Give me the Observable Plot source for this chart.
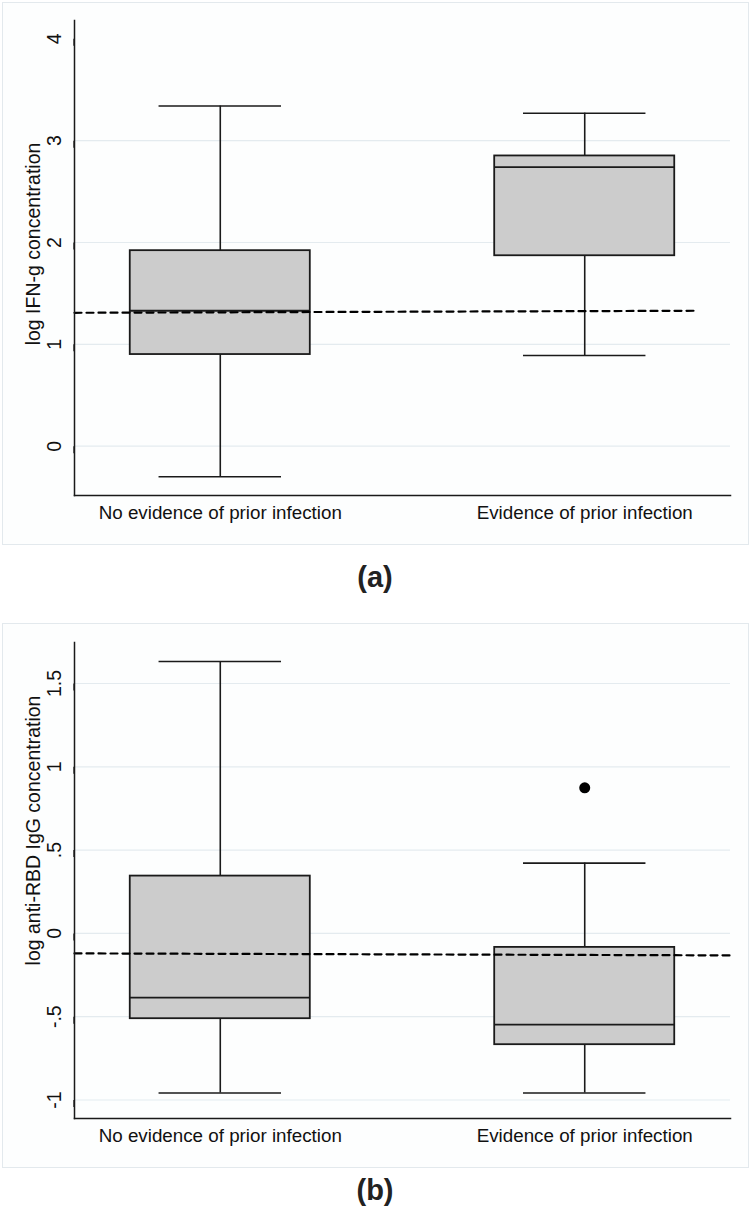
<!DOCTYPE html>
<html>
<head>
<meta charset="utf-8">
<script src="https://cdn.jsdelivr.net/npm/d3@7"></script>
<script src="https://cdn.jsdelivr.net/npm/@observablehq/plot@0.6"></script>
<style>
  html, body { margin: 0; padding: 0; background: #ffffff; }
  body { position: relative; width: 750px; height: 1215px; font-family: "Liberation Sans", Arial, Helvetica, sans-serif; }
  .frame { position: absolute; border: 1px solid #e3e9ed; background: #fdfefe; box-sizing: border-box; }
  .panel { position: absolute; left: 0; }
  .cap { position: absolute; left: 0; width: 750px; text-align: center; font-weight: bold; font-size: 29px; line-height: 29px; color: #222; }
</style>
</head>
<body>
<div class="frame" style="left:2px; top:2px; width:747px; height:543px"></div>
<div class="panel" id="pa" style="top:0px"></div>
<div class="cap" style="top:563px">(a)</div>
<div class="frame" style="left:2px; top:623px; width:747px; height:545px"></div>
<div class="panel" id="pb" style="top:623px"></div>
<div class="cap" style="top:1176px">(b)</div>
<script>
// ---- data ----
const groups = ["No evidence of prior infection", "Evidence of prior infection"];
const groupPos = [1, 2];

// (a) log IFN-g concentration
const ifnLow    = [-0.30, 0.89];
const ifnQ1     = [0.90, 1.87];
const ifnMedian = [1.33, 2.74];
const ifnQ3     = [1.92, 2.85];
const ifnHigh   = [3.34, 3.27];
const ifnOutliers = [];
const ifnRefX = [0.6, 2.31];
const ifnRefY = [1.31, 1.33];
const ifnTicks = [0, 1, 2, 3, 4];
const ifnGrid = [0, 1, 2, 3];

// (b) log anti-RBD IgG concentration
const rbdLow    = [-0.958, -0.958];
const rbdQ1     = [-0.512, -0.668];
const rbdMedian = [-0.386, -0.548];
const rbdQ3     = [0.344, -0.084];
const rbdHigh   = [1.632, 0.422];
const rbdOutliers = [{pos: 2, value: 0.874}];
const rbdRefX = [0.6, 2.4];
const rbdRefY = [-0.12, -0.132];
const rbdTicks = [-1, -0.5, 0, 0.5, 1, 1.5];
const rbdGrid = [-1, -0.5, 0, 0.5, 1, 1.5];

const FONT = "Liberation Sans, Arial, Helvetica, sans-serif";
const BOX_HALF = 0.247, CAP_HALF = 0.168;

function fmt(d) {
  if (d === 0) return "0";
  let s = String(d);
  return s.replace(/^(-?)0\./, "$1.");
}

function makeBoxPlot({low, q1, med, q3, high, outliers, refX, refY, ticks, grid, yDomain, label, labelShift, marginTop}) {
  const boxes = groupPos.map((p, i) => ({pos: p, low: low[i], q1: q1[i], med: med[i], q3: q3[i], high: high[i]}));
  const ref = refX.map((x, i) => ({x, y: refY[i]}));
  return Plot.plot({
    width: 750,
    height: 545,
    marginTop,
    marginBottom: 50,
    marginLeft: 74,
    marginRight: 20,
    style: {fontFamily: FONT, fontSize: "18.8px", color: "#111", background: "transparent", overflow: "visible"},
    x: {domain: [0.6, 2.4]},
    y: {domain: yDomain},
    marks: [
      Plot.gridY(grid, {stroke: "#e4ebef", strokeOpacity: 1, strokeWidth: 1.2}),
      // whiskers
      Plot.ruleX(boxes, {x: "pos", y1: "q3", y2: "high", stroke: "#1a1a1a", strokeWidth: 1.6}),
      Plot.ruleX(boxes, {x: "pos", y1: "low", y2: "q1", stroke: "#1a1a1a", strokeWidth: 1.6}),
      Plot.ruleY(boxes, {y: "high", x1: d => d.pos - CAP_HALF, x2: d => d.pos + CAP_HALF, stroke: "#1a1a1a", strokeWidth: 1.6}),
      Plot.ruleY(boxes, {y: "low", x1: d => d.pos - CAP_HALF, x2: d => d.pos + CAP_HALF, stroke: "#1a1a1a", strokeWidth: 1.6}),
      // boxes
      Plot.rect(boxes, {x1: d => d.pos - BOX_HALF, x2: d => d.pos + BOX_HALF, y1: "q1", y2: "q3", fill: "#cccccc", stroke: "#1a1a1a", strokeWidth: 1.8}),
      Plot.ruleY(boxes, {y: "med", x1: d => d.pos - BOX_HALF, x2: d => d.pos + BOX_HALF, stroke: "#1a1a1a", strokeWidth: 1.8}),
      // outliers
      Plot.dot(outliers, {x: "pos", y: "value", r: 5.5, fill: "#000", stroke: "none"}),
      // reference dashed line
      Plot.line(ref, {x: "x", y: "y", stroke: "#000", strokeWidth: 2.2, strokeDasharray: "7,5"}),
      // axes
      Plot.frame({anchor: "left", stroke: "#1a1a1a", strokeWidth: 1.5}),
      Plot.frame({anchor: "bottom", stroke: "#1a1a1a", strokeWidth: 1.5}),
      Plot.axisY(ticks, {tickSize: 7, tickPadding: 7, tickFormat: fmt, rotate: -90, textAnchor: "middle", lineAnchor: "bottom",
        stroke: "#1a1a1a", strokeWidth: 1.3, fill: "#111", fontSize: 19.5, label: null}),
      Plot.text([label], {frameAnchor: "left", text: d => d, rotate: -90, textAnchor: "middle", lineAnchor: "middle",
        dx: -41, dy: labelShift, fontSize: 19.5, fill: "#111"}),
      Plot.axisX(groupPos, {tickSize: 0, tickPadding: 10, tickFormat: d => groups[d - 1], fill: "#111", label: null})
    ]
  });
}

document.getElementById("pa").appendChild(makeBoxPlot({
  low: ifnLow, q1: ifnQ1, med: ifnMedian, q3: ifnQ3, high: ifnHigh, outliers: ifnOutliers,
  refX: ifnRefX, refY: ifnRefY, ticks: ifnTicks, grid: ifnGrid, yDomain: [-0.484, 4.18],
  label: "log IFN-g concentration", labelShift: -14, marginTop: 20
}));
document.getElementById("pb").appendChild(makeBoxPlot({
  low: rbdLow, q1: rbdQ1, med: rbdMedian, q3: rbdQ3, high: rbdHigh, outliers: rbdOutliers,
  refX: rbdRefX, refY: rbdRefY, ticks: rbdTicks, grid: rbdGrid, yDomain: [-1.111, 1.746],
  label: "log anti-RBD IgG concentration", labelShift: -50, marginTop: 19
}));
</script>
</body>
</html>
